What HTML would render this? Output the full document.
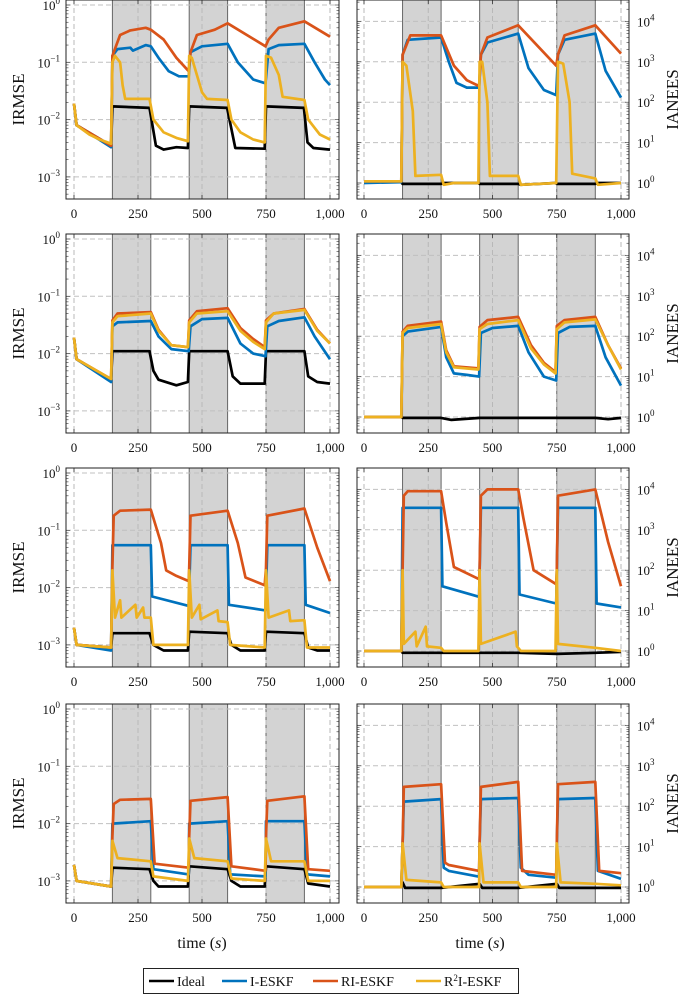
<!DOCTYPE html>
<html><head><meta charset="utf-8"><style>
body{margin:0;background:#fff}
svg{display:block;font-family:"Liberation Serif",serif}
</style></head><body>
<svg id="fig" width="685" height="995" viewBox="0 0 685 995" xmlns="http://www.w3.org/2000/svg"></svg>
<script>
// ---- data: [time, value] pairs ----
const xTicks=[0,250,500,750,1000];
const xTickLabels=["0","250","500","750","1,000"];
const shadeStart=[150,450,750];
const shadeEnd=[300,600,900];
const irmseExps=[0,-1,-2,-3];
const ianeesExps=[4,3,2,1,0];
const seriesNames=["Ideal","I-ESKF","RI-ESKF","R²I-ESKF"];

// Panel 1: IRMSE row 1
const p1Ideal=[[0,0.019],[10,0.008],[145,0.0035],[150,0.017],[295,0.016],[320,0.0035],[350,0.003],[400,0.0033],[445,0.0032],[450,0.017],[598,0.016],[630,0.0032],[745,0.0031],[750,0.017],[898,0.016],[912,0.004],[935,0.0032],[1000,0.003]];
const p1I=[[0,0.019],[10,0.008],[145,0.0033],[150,0.13],[170,0.17],[220,0.18],[230,0.16],[280,0.2],[300,0.19],[330,0.12],[370,0.07],[410,0.057],[448,0.057],[455,0.15],[500,0.19],[600,0.21],[640,0.1],[700,0.05],[748,0.043],[760,0.17],[800,0.2],[900,0.21],[940,0.1],[980,0.05],[1000,0.04]];
const p1RI=[[0,0.019],[10,0.008],[145,0.0035],[150,0.13],[180,0.3],[220,0.36],[280,0.4],[300,0.37],[350,0.25],[400,0.12],[448,0.07],[455,0.15],[480,0.3],[550,0.37],[600,0.48],[748,0.19],[760,0.25],[800,0.4],[900,0.52],[1000,0.28]];
const p1R2I=[[0,0.019],[10,0.008],[60,0.0055],[100,0.0045],[145,0.0038],[150,0.1],[160,0.13],[180,0.1],[190,0.04],[200,0.023],[295,0.023],[310,0.01],[350,0.006],[400,0.0048],[445,0.0042],[450,0.13],[460,0.12],[480,0.06],[500,0.03],[520,0.023],[600,0.022],[615,0.01],[650,0.006],[700,0.0045],[745,0.004],[750,0.13],[770,0.12],[800,0.06],[815,0.025],[900,0.022],[915,0.01],[960,0.0055],[1000,0.0045]];
// Panel 2: IANEES row 1
const p2Ideal=[[0,1.1],[145,1.05],[150,0.95],[300,0.95],[310,1.0],[445,1.0],[450,0.95],[600,0.95],[610,0.9],[745,1.0],[750,0.95],[900,0.95],[910,1.0],[1000,1.0]];
const p2I=[[0,1.0],[145,1.05],[150,1500],[170,3500],[300,4000],[330,1000],[360,300],[400,230],[448,230],[455,1500],[480,3000],[600,5000],[640,700],[700,200],[748,150],[755,1500],[780,3500],[900,5000],[940,600],[1000,130]];
const p2RI=[[0,1.1],[145,1.1],[150,1500],[180,4500],[300,4500],[350,800],[400,350],[448,250],[455,1500],[480,4000],[600,8000],[748,800],[755,1500],[780,4500],[900,8000],[1000,1600]];
const p2R2I=[[0,1.1],[145,1.1],[150,1000],[165,800],[190,60],[200,1.5],[300,1.6],[310,0.9],[350,1.0],[445,1.0],[450,1000],[460,1000],[480,100],[490,1.5],[600,1.5],[610,0.9],[748,1.0],[755,1000],[775,900],[800,100],[810,1.7],[900,1.3],[910,0.9],[1000,1.0]];
// Panel 3: IRMSE row 2
const p3Ideal=[[0,0.019],[10,0.008],[145,0.0035],[150,0.011],[295,0.011],[310,0.005],[330,0.0035],[400,0.0028],[445,0.0032],[450,0.011],[600,0.011],[620,0.004],[650,0.003],[745,0.003],[750,0.011],[900,0.011],[915,0.004],[950,0.0032],[1000,0.003]];
const p3I=[[0,0.019],[10,0.008],[145,0.0032],[150,0.03],[170,0.035],[300,0.037],[330,0.02],[380,0.012],[448,0.011],[455,0.03],[500,0.04],[600,0.042],[650,0.015],[700,0.01],[748,0.009],[755,0.03],[800,0.037],[900,0.043],[940,0.02],[1000,0.008]];
const p3RI=[[0,0.019],[10,0.008],[145,0.0036],[150,0.038],[170,0.05],[300,0.053],[330,0.026],[380,0.014],[445,0.013],[450,0.038],[480,0.055],[600,0.062],[650,0.028],[700,0.018],[745,0.013],[750,0.038],[780,0.05],[900,0.06],[950,0.026],[1000,0.015]];
const p3R2I=[[0,0.019],[10,0.008],[145,0.0036],[150,0.035],[170,0.045],[300,0.05],[330,0.025],[380,0.014],[445,0.013],[450,0.035],[480,0.05],[600,0.055],[650,0.025],[700,0.016],[745,0.012],[750,0.035],[780,0.05],[900,0.058],[950,0.025],[1000,0.015]];
// Panel 4: IANEES row 2
const p4Ideal=[[0,1.0],[145,1.0],[150,0.95],[300,0.95],[340,0.85],[450,0.95],[600,0.95],[750,0.95],[900,0.95],[950,0.88],[1000,0.95]];
const p4I=[[0,1.0],[145,1.0],[150,100],[170,130],[300,170],[320,30],[350,12],[400,11],[448,10],[455,120],[500,160],[600,180],[640,40],[700,10],[748,8],[755,120],[800,170],[900,180],[940,30],[1000,6]];
const p4RI=[[0,1.0],[145,1.0],[150,130],[170,180],[300,230],[320,45],[350,18],[445,16],[450,170],[480,250],[600,300],[650,60],[700,22],[745,13],[750,180],[780,250],[900,300],[950,60],[1000,16]];
const p4R2I=[[0,1.0],[145,1.0],[150,120],[170,160],[300,200],[320,40],[350,17],[445,15],[450,150],[480,200],[600,250],[650,50],[700,20],[745,12],[750,150],[780,220],[900,260],[950,60],[1000,15]];
// Panel 5: IRMSE row 3
const p5Ideal=[[0,0.002],[10,0.001],[145,0.0009],[150,0.0016],[295,0.0016],[310,0.001],[350,0.0008],[445,0.0008],[450,0.0017],[600,0.0016],[615,0.001],[650,0.0008],[745,0.0008],[750,0.0017],[900,0.0016],[915,0.0009],[950,0.0008],[1000,0.0008]];
const p5I=[[0,0.002],[10,0.001],[145,0.0008],[150,0.055],[300,0.055],[305,0.007],[448,0.0048],[455,0.055],[600,0.055],[605,0.005],[748,0.004],[755,0.055],[900,0.055],[905,0.005],[1000,0.0036]];
const p5RI=[[0,0.002],[10,0.001],[145,0.0009],[150,0.023],[155,0.18],[180,0.22],[300,0.23],[340,0.06],[360,0.02],[400,0.016],[448,0.013],[450,0.022],[455,0.18],[600,0.22],[640,0.06],[670,0.015],[745,0.011],[750,0.022],[755,0.18],[900,0.24],[950,0.05],[1000,0.013]];
const p5R2I=[[0,0.002],[10,0.001],[145,0.0009],[150,0.02],[160,0.003],[180,0.006],[185,0.003],[240,0.005],[245,0.003],[270,0.0045],[275,0.003],[300,0.003],[310,0.001],[445,0.001],[450,0.02],[460,0.003],[490,0.005],[495,0.0028],[560,0.004],[565,0.0026],[600,0.0025],[610,0.001],[745,0.0009],[750,0.02],[760,0.003],[840,0.004],[845,0.0026],[900,0.0027],[910,0.0009],[1000,0.0009]];
// Panel 6: IANEES row 3
const p6Ideal=[[0,1.0],[145,1.0],[150,0.9],[300,0.9],[450,0.9],[600,0.9],[750,0.85],[900,0.9],[1000,0.95]];
const p6I=[[0,1.0],[145,1.0],[150,3500],[300,3500],[305,40],[448,22],[455,3500],[600,3500],[605,25],[748,15],[755,3500],[900,3500],[905,15],[1000,12]];
const p6RI=[[0,1.0],[145,1.0],[150,100],[155,7000],[170,9000],[300,9000],[320,1500],[350,120],[448,60],[450,100],[455,7000],[480,10000],[600,10000],[620,2000],[660,100],[748,45],[750,100],[755,7000],[900,10000],[950,500],[1000,40]];
const p6R2I=[[0,1.0],[145,1.0],[150,100],[155,1.5],[200,3],[205,1.3],[240,4],[245,1.3],[300,1.2],[310,1.0],[445,1.0],[450,100],[455,1.5],[590,3],[595,1.3],[600,1.2],[610,1.0],[745,1.0],[750,100],[755,1.5],[900,1.2],[1000,1.0]];
// Panel 7: IRMSE row 4
const p7Ideal=[[0,0.0019],[10,0.001],[145,0.0008],[150,0.0017],[295,0.0016],[310,0.001],[330,0.0008],[445,0.0008],[450,0.0018],[600,0.0016],[615,0.001],[650,0.0008],[745,0.0008],[750,0.0018],[900,0.0016],[915,0.0009],[1000,0.0008]];
const p7I=[[0,0.0019],[10,0.001],[145,0.0008],[150,0.01],[300,0.011],[310,0.0016],[448,0.0013],[450,0.01],[600,0.011],[610,0.0013],[748,0.0012],[750,0.011],[900,0.011],[910,0.0013],[1000,0.0012]];
const p7RI=[[0,0.0019],[10,0.001],[145,0.0008],[150,0.006],[155,0.022],[180,0.026],[300,0.027],[315,0.002],[448,0.0017],[450,0.006],[455,0.025],[600,0.029],[615,0.0018],[748,0.0015],[750,0.006],[755,0.025],[900,0.03],[915,0.0016],[1000,0.0015]];
const p7R2I=[[0,0.0019],[10,0.001],[145,0.0008],[150,0.005],[170,0.0025],[300,0.0022],[310,0.0012],[445,0.001],[450,0.0055],[470,0.0025],[600,0.0022],[615,0.0011],[745,0.001],[750,0.0055],[770,0.0022],[900,0.0022],[915,0.001],[1000,0.001]];
// Panel 8: IANEES row 4
const p8Ideal=[[0,1.0],[145,1.0],[150,1.3],[160,0.95],[300,0.95],[450,1.2],[460,0.95],[600,0.95],[750,1.2],[760,0.95],[900,0.95],[1000,0.95]];
const p8I=[[0,1.0],[145,1.0],[150,12],[155,130],[300,150],[310,3],[330,2.5],[448,1.8],[450,12],[455,150],[600,160],[610,3],[640,2],[748,1.7],[750,12],[755,150],[900,160],[910,2.5],[1000,1.6]];
const p8RI=[[0,1.0],[145,1.0],[150,12],[155,300],[300,350],[315,4],[330,3.5],[448,2.5],[450,12],[455,300],[600,400],[615,2.5],[748,2],[750,12],[755,350],[900,400],[915,2.5],[1000,2.2]];
const p8R2I=[[0,1.0],[145,1.0],[150,12],[165,1.5],[300,1.3],[310,1.0],[448,1.0],[450,12],[465,1.3],[600,1.3],[610,1.0],[748,1.0],[750,12],[765,1.3],[900,1.2],[1000,1.1]];

const colors=["#000000","#0072BD","#D95319","#EDB120"];
const NS="http://www.w3.org/2000/svg";
const svg=document.getElementById('fig');
function el(tag,attrs,parent){const e=document.createElementNS(NS,tag);for(const k in attrs)e.setAttribute(k,attrs[k]);(parent||svg).appendChild(e);return e;}

const rowTops=[0,234,468,704];
const H=199;
const panels=[
 {row:0,side:'L',series:[p1Ideal,p1I,p1RI,p1R2I]},
 {row:0,side:'R',series:[p2Ideal,p2I,p2RI,p2R2I]},
 {row:1,side:'L',series:[p3Ideal,p3I,p3RI,p3R2I]},
 {row:1,side:'R',series:[p4Ideal,p4I,p4RI,p4R2I]},
 {row:2,side:'L',series:[p5Ideal,p5I,p5RI,p5R2I]},
 {row:2,side:'R',series:[p6Ideal,p6I,p6RI,p6R2I]},
 {row:3,side:'L',series:[p7Ideal,p7I,p7RI,p7R2I]},
 {row:3,side:'R',series:[p8Ideal,p8I,p8RI,p8R2I]},
];

panels.forEach((p,pi)=>{
  const top=rowTops[p.row];
  const L=p.side==='L';
  const bx0=L?66:357, bx1=L?339:629;
  const x0=L?74:364, x1=L?330:621;
  const xs=t=>x0+(x1-x0)*t/1000;
  const ys=L?(v=>top+5-Math.log10(v)*57.3):(v=>top+183-Math.log10(v)*40.4);
  const g=el('g',{});
  
  
  const cid='clip'+pi;
  const cp=el('clipPath',{id:cid},g);el('rect',{x:bx0,y:top,width:bx1-bx0,height:H},cp);
  for(let i=0;i<shadeStart.length;i++){
    const r=el('rect',{x:xs(shadeStart[i]),y:top,width:xs(shadeEnd[i])-xs(shadeStart[i]),height:H,fill:'#d3d3d3',stroke:'none'},g);
    
    
    [shadeStart[i],shadeEnd[i]].forEach(t=>el('line',{x1:xs(t),x2:xs(t),y1:top,y2:top+H,stroke:'#666','stroke-width':1},g));
  }
  xTicks.forEach(t=>el('line',{x1:xs(t),x2:xs(t),y1:top,y2:top+H,stroke:'#b8b8b8','stroke-width':1,'stroke-dasharray':'5,3'},g));
  const exps=L?irmseExps:ianeesExps;
  exps.forEach(e=>el('line',{x1:bx0,x2:bx1,y1:ys(Math.pow(10,e)),y2:ys(Math.pow(10,e)),stroke:'#c0c0c0','stroke-width':1,'stroke-dasharray':'5,3'},g));
  const eMin=L?-4:-1, eMax=L?0:4;
  for(let e=eMin;e<=eMax;e++)for(let m=1;m<10;m++){
    const y=ys(m*Math.pow(10,e)); if(y<top||y>top+H)continue;
    const len=m===1?4:2.5;
    el('line',{x1:bx0,x2:bx0+len,y1:y,y2:y,stroke:'#333','stroke-width':0.6},g);
    el('line',{x1:bx1-len,x2:bx1,y1:y,y2:y,stroke:'#333','stroke-width':0.6},g);
  }
  xTicks.forEach(t=>{el('line',{x1:xs(t),x2:xs(t),y1:top,y2:top+4,stroke:'#333','stroke-width':0.8},g);el('line',{x1:xs(t),x2:xs(t),y1:top+H-4,y2:top+H,stroke:'#333','stroke-width':0.8},g);});
  const sg=el('g',{'clip-path':'url(#'+cid+')'},g);
  p.series.forEach((s,si)=>{
    const d=s.map((pt,i)=>(i?'L':'M')+xs(pt[0]).toFixed(1)+','+ys(pt[1]).toFixed(1)).join('');
    const path=el('path',{d:d,fill:'none',stroke:colors[si],'stroke-width':2.7,'stroke-linejoin':'round'},sg);
    
    
  });
  el('rect',{x:bx0,y:top,width:bx1-bx0,height:H,fill:'none',stroke:'#222','stroke-width':1},g);
  xTicks.forEach((t,i)=>{const tx=el('text',{x:xs(t),y:top+H+19,'font-size':13,'text-anchor':'middle',fill:'#111'},g);tx.textContent=xTickLabels[i];
    });
  exps.forEach(e=>{
    const y=ys(Math.pow(10,e))+5;
    const tx=el('text',{x:L?60:637,y:y,'font-size':13,'text-anchor':L?'end':'start',fill:'#111'},g);
    
    const a=el('tspan',{},tx);a.textContent='10';
    const b=el('tspan',{dy:-6,'font-size':9},tx);b.textContent=(e<0?'\u2212':'')+Math.abs(e);
  });
  const lab=el('text',{x:0,y:0,'font-size':17,'text-anchor':'middle',fill:'#111',transform:`translate(${L?24:678},${top+H/2}) rotate(-90)`},g);
  lab.textContent=L?'IRMSE':'IANEES';
  
  
});

[202,480].forEach(cx=>{
  const t=el('text',{x:cx,y:948,'font-size':16,'text-anchor':'middle',fill:'#111'});
  
  
  const a=el('tspan',{},t);a.textContent='time (';
  const b=el('tspan',{'font-style':'italic'},t);b.textContent='s';
  const c2=el('tspan',{},t);c2.textContent=')';
});

const lg=el('g',{});


el('rect',{x:143.5,y:968.5,width:375,height:25,fill:'#fff',stroke:'#222','stroke-width':1},lg);
const legX=[149,222,313,416];
seriesNames.forEach((n,i)=>{
  const eg=el('g',{},lg);
  
  
  el('line',{x1:legX[i],x2:legX[i]+25,y1:981,y2:981,stroke:colors[i],'stroke-width':2.4},eg);
  const t=el('text',{x:legX[i]+28,y:986,'font-size':14,fill:'#111'},eg);
  if(i===3){const a=el('tspan',{},t);a.textContent='R';const b=el('tspan',{dy:-5,'font-size':9},t);b.textContent='2';const c=el('tspan',{dy:5},t);c.textContent='I-ESKF';}
  else t.textContent=n;
});
</script>
</body></html>
